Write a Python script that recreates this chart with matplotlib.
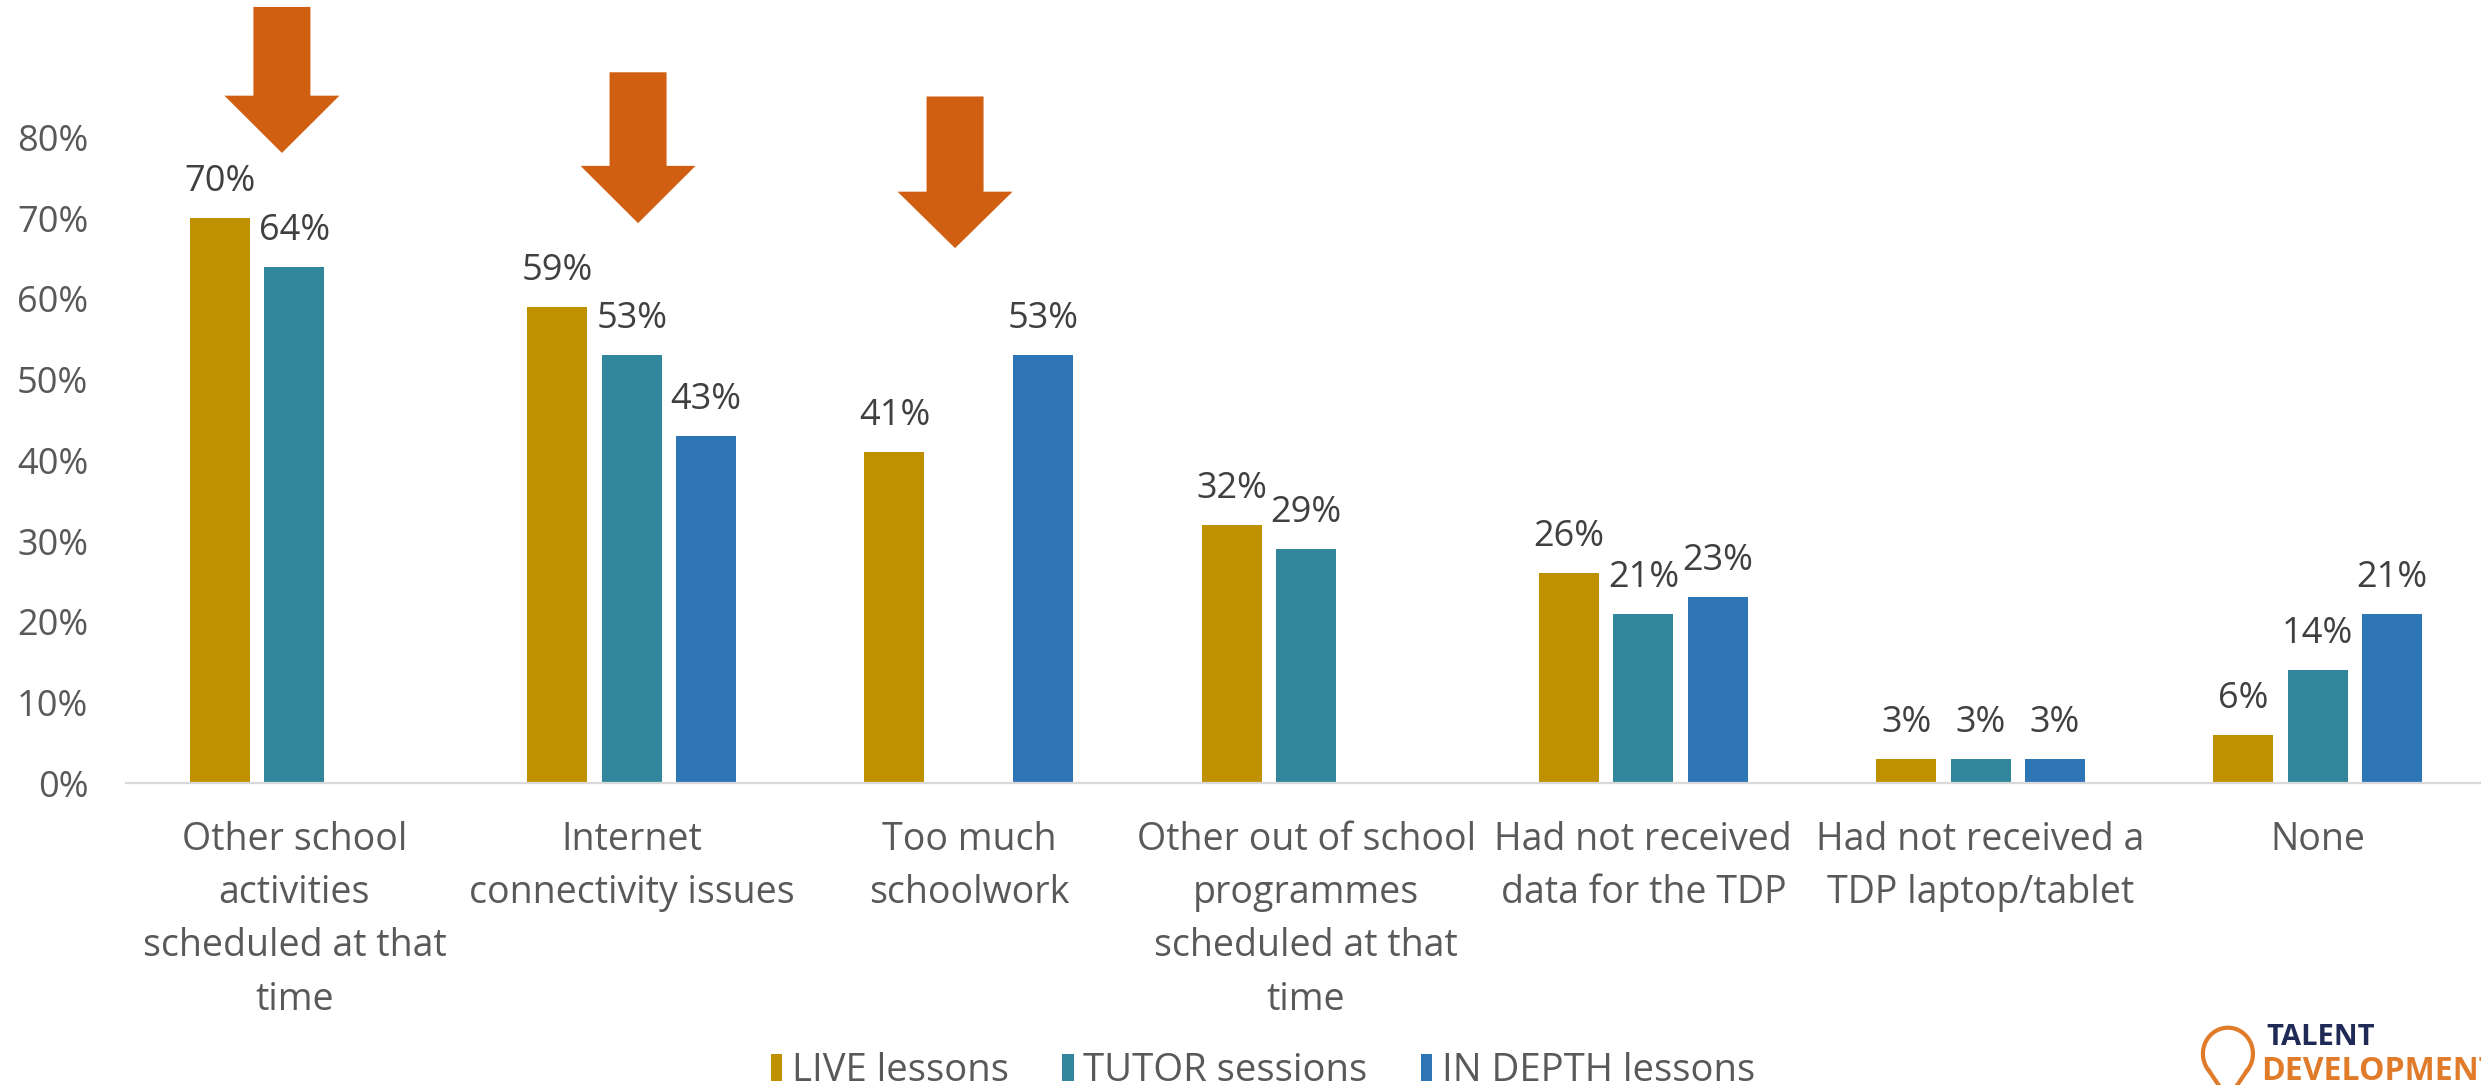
import numpy as np
import matplotlib
matplotlib.use("Agg")
import matplotlib.pyplot as plt
from matplotlib.patches import Polygon

plt.rcParams['font.family'] = ['Open Sans', 'DejaVu Sans']

categories = [
    "Other school\nactivities\nscheduled at that\ntime",
    "Internet\nconnectivity issues",
    "Too much\nschoolwork",
    "Other out of school\nprogrammes\nscheduled at that\ntime",
    "Had not received\ndata for the TDP",
    "Had not received a\nTDP laptop/tablet",
    "None",
]
series_names = ["LIVE lessons", "TUTOR sessions", "IN DEPTH lessons"]
live = [70, 59, 41, 32, 26, 3, 6]
tutor = [64, 53, np.nan, 29, 21, 3, 14]
in_depth = [np.nan, 43, 53, np.nan, 23, 3, 21]
yticks = [0, 10, 20, 30, 40, 50, 60, 70, 80]
highlighted = [0, 1, 2]

colors = ["#BF9000", "#31869B", "#2E75B6"]
arrow_color = "#D05F12"
text_gray = "#595959"
label_gray = "#404040"

fig = plt.figure(figsize=(24.81, 10.85), dpi=100)
ax = fig.add_axes([0.0507, 0.2783, 0.9515, 0.7287])

x = np.arange(len(categories))
pitch = 0.2207
width = 0.178
for i, (vals, c, name) in enumerate(zip([live, tutor, in_depth], colors, series_names)):
    pos = x + (i - 1) * pitch
    v = np.array(vals, dtype=float)
    mask = ~np.isnan(v)
    bars = ax.bar(pos[mask], v[mask], width=width, color=c, label=name, zorder=2)
    for b, val in zip(bars, v[mask]):
        ax.annotate(f"{val:.0f}%", (b.get_x() + b.get_width() / 2, b.get_height()),
                    xytext=(0, 13), textcoords="offset points",
                    ha="center", va="bottom", fontsize=26, color=label_gray)

ax.set_xlim(-0.5, len(categories) - 0.5)
ax.set_ylim(0, 98)
ax.set_yticks(yticks)
ax.set_yticklabels([f"{t}%" for t in yticks])
ax.set_xticks(x)
ax.set_xticklabels(categories, linespacing=1.53)

for s in ["top", "right", "left"]:
    ax.spines[s].set_visible(False)
ax.spines["bottom"].set_color("#D9D9D9")
ax.spines["bottom"].set_linewidth(1.6)
ax.tick_params(axis="both", length=0, colors=text_gray, labelsize=26)
ax.tick_params(axis="y", pad=27)
ax.tick_params(axis="x", pad=27)
for lbl in ax.get_xticklabels():
    lbl.set_verticalalignment("top")
    lbl.set_fontsize(27)

# Down arrows drawn over the first three categories
arrow_geom = [  # (x offset from category, top, head base, tip)
    (-0.037, 96.2, 85.2, 78.1),
    (0.019, 88.1, 76.5, 69.4),
    (-0.041, 85.1, 73.3, 66.3),
]
shaft_hw = 0.0845
head_hw = 0.1705
for idx, (dx, top, base, tip) in zip(highlighted, arrow_geom):
    cx = idx + dx
    pts = [(cx - shaft_hw, top), (cx + shaft_hw, top), (cx + shaft_hw, base),
           (cx + head_hw, base), (cx, tip), (cx - head_hw, base), (cx - shaft_hw, base)]
    ax.add_patch(Polygon(pts, closed=True, facecolor=arrow_color, edgecolor="none",
                         zorder=3, clip_on=False))

leg = fig.legend(loc="center", bbox_to_anchor=(0.509, 0.013), ncol=3, frameon=False,
                 fontsize=27.5, handlelength=0.3, handleheight=0.7, handletextpad=0.25,
                 columnspacing=1.4, labelcolor=text_gray)

# Logo in the lower right corner
fig.text(0.9135, 0.044, "TALENT", fontsize=21, fontweight="bold", color="#1F2A56",
         ha="left", va="center")
fig.text(0.9115, 0.012, "DEVELOPMENT", fontsize=23, fontweight="bold", color="#E07B2A",
         ha="left", va="center")
lax = fig.add_axes([0.886, 0.0, 0.024, 0.06])
lax.set_xlim(0, 1)
lax.set_ylim(0, 1)
lax.axis("off")
t = np.linspace(np.deg2rad(-40), np.deg2rad(220), 100)
bx = 0.5 + 0.42 * np.cos(t)
by = 0.48 + 0.40 * np.sin(t)
lax.plot(bx, by, color="#E07B2A", lw=3)
lax.plot([bx[0], 0.62], [by[0], -0.05], color="#E07B2A", lw=3)
lax.plot([bx[-1], 0.38], [by[-1], -0.05], color="#E07B2A", lw=3)

fig.savefig("out.png", dpi=100)
